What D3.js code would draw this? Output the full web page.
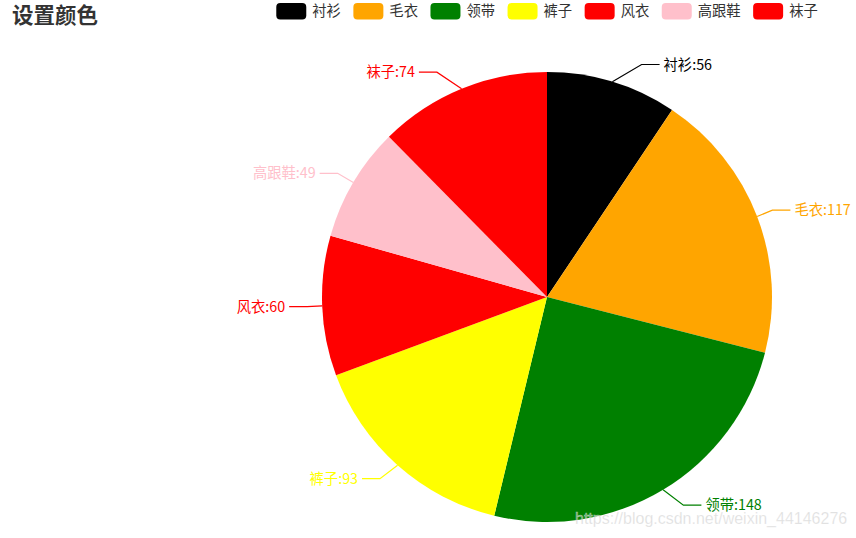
<!DOCTYPE html>
<html><head><meta charset="utf-8">
<script src="https://cdn.jsdelivr.net/npm/d3@7/dist/d3.min.js"></script>
<style>html,body{margin:0;padding:0;background:#fff;}svg{display:block;}</style>
</head><body>
<svg id="chart" width="856" height="538"></svg>
<script>
const title = "设置颜色";
const categories = ["衬衫","毛衣","领带","裤子","风衣","高跟鞋","袜子"];
const values = [56,117,148,93,60,49,74];
const colors = ["#000000","#ffa500","#008000","#ffff00","#ff0000","#ffc0cb","#ff0000"];
const watermark = "https://blog.csdn.net/weixin_44146276";

const svg = d3.select("#chart");
const font = "'Microsoft YaHei','Noto Sans CJK SC',sans-serif";
const cx = 547, cy = 297, r = 225;

// title
svg.append("text").attr("x", 12).attr("y", 22.5)
  .attr("font-family", font).attr("font-size", 21.5).attr("font-weight", "bold")
  .attr("fill", "#333").text(title);

// legend
const legendData = categories.map((c,i)=>({name:c,color:colors[i]}));
const swW = 30, swH = 16.5, textGap = 6, itemGap = 12.5, fs = 14.3;
const meas = svg.append("text").attr("font-family", font).attr("font-size", fs);
const widths = legendData.map(d => { meas.text(d.name); return meas.node().getComputedTextLength(); });
meas.remove();
const total = d3.sum(widths.map(w => swW + textGap + w)) + itemGap*(legendData.length-1);
let lx = cx - total/2;
const lg = svg.append("g");
legendData.forEach((d,i)=>{
  const g = lg.append("g").attr("transform", `translate(${lx},3)`);
  g.append("rect").attr("width", swW).attr("height", swH).attr("rx", 4).attr("fill", d.color);
  g.append("text").attr("x", swW+textGap).attr("y", swH/2).attr("dy","0.36em")
    .attr("font-family", font).attr("font-size", fs).attr("fill", "#333").text(d.name);
  lx += swW + textGap + widths[i] + itemGap;
});

// pie
const pie = d3.pie().sort(null).value(d=>d.value);
const arcs = pie(categories.map((c,i)=>({name:c,value:values[i],color:colors[i]})));
const arc = d3.arc().innerRadius(0).outerRadius(r);
const pg = svg.append("g").attr("transform", `translate(${cx},${cy})`);
pg.selectAll("path").data(arcs).join("path").attr("d", arc).attr("fill", d=>d.data.color);

// labels
const rA = r + 15, rB = 253, rY = 243, len2 = 18;
arcs.forEach(d=>{
  const a = (d.startAngle + d.endAngle)/2;
  const sx = Math.sin(a), sy = -Math.cos(a);
  const dir = sx >= 0 ? 1 : -1;
  const p0 = [r*sx, r*sy];
  const ly = rY*sy;
  const ex = dir * rA * Math.sqrt(Math.max(0, 1 - (ly*ly)/(rB*rB)));
  const p1 = [ex, ly];
  const p2 = [ex + dir*len2, ly];
  pg.append("polyline").attr("points", [p0,p1,p2].map(p=>p.join(",")).join(" "))
    .attr("fill","none").attr("stroke", d.data.color).attr("stroke-width", 1.2);
  pg.append("text").attr("x", p2[0] + dir*4).attr("y", ly).attr("dy","0.36em")
    .attr("text-anchor", dir>0 ? "start" : "end")
    .attr("font-family", font).attr("font-size", fs).attr("fill", d.data.color)
    .text(d.data.name + ":" + d.data.value);
});

// watermark
svg.append("text").attr("x", 575).attr("y", 524)
  .attr("font-family", "'Liberation Sans',Arial,sans-serif").attr("font-size", 16)
  .attr("fill", "rgba(190,190,190,0.55)").attr("stroke","rgba(255,255,255,0.5)").attr("stroke-width",0.6)
  .text(watermark);
</script>
</body></html>
